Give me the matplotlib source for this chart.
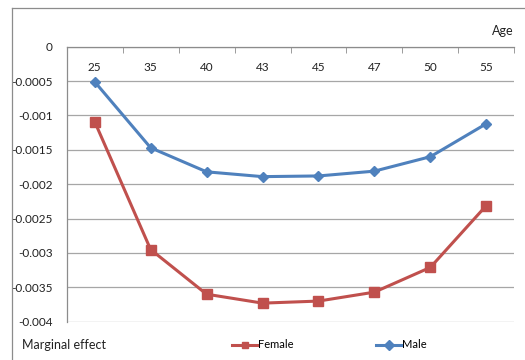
import matplotlib
matplotlib.use("Agg")
import matplotlib.pyplot as plt
from matplotlib.lines import Line2D

ages = ["25", "35", "40", "43", "45", "47", "50", "55"]
female = [-0.00109, -0.00295, -0.00360, -0.00373, -0.00370, -0.00357, -0.00321, -0.00231]
male = [-0.00051, -0.00147, -0.00182, -0.00189, -0.00188, -0.00181, -0.00160, -0.00112]
yticks = [0, -0.0005, -0.001, -0.0015, -0.002, -0.0025, -0.003, -0.0035, -0.004]
ytick_labels = ["0", "-0.0005", "-0.001", "-0.0015", "-0.002", "-0.0025", "-0.003", "-0.0035", "-0.004"]

plt.rcParams['font.family'] = ['Lato', 'DejaVu Sans']
FS = 8.5
W, H = 525, 360
fig = plt.figure(figsize=(W / 100, H / 100), dpi=100)

# outer chart border (left and top edges visible)
bx, by = 11.5 / W, 1 - 7.5 / H
fig.add_artist(Line2D([bx, bx], [0, by], transform=fig.transFigure, color="#8c8c8c", lw=0.9))
fig.add_artist(Line2D([bx, 1], [by, by], transform=fig.transFigure, color="#8c8c8c", lw=0.9))

left, right, top, bottom = 66.7, 514.3, 46.7, 321.7
ax = fig.add_axes([left / W, 1 - bottom / H, (right - left) / W, (bottom - top) / H])

x = list(range(len(ages)))
ax.plot(x, female, color="#C0504D", lw=2.2, marker="s", ms=6.5, label="Female", zorder=3)
ax.plot(x, male, color="#4F81BD", lw=2.2, marker="D", ms=5, label="Male", zorder=3)

ax.set_xlim(-0.5, len(ages) - 0.5)
ax.set_ylim(-0.004, 0)
ax.set_yticks(yticks)
ax.set_yticklabels(ytick_labels, fontsize=FS, color="#222222")
ax.yaxis.grid(True, color="#a6a6a6", lw=0.9)
ax.set_axisbelow(True)
ax.tick_params(axis="y", length=0, pad=10)

ax.xaxis.tick_top()
ax.set_xticks(x)
ax.set_xticklabels(ages, fontsize=FS, color="#222222")
ax.tick_params(axis="x", which="major", length=0, pad=-19)
ax.set_xticks([i - 0.5 for i in range(len(ages) + 1)], minor=True)
ax.tick_params(axis="x", which="minor", direction="in", length=4, color="#8c8c8c", top=True)

for s in ["right", "bottom"]:
    ax.spines[s].set_visible(False)
for s in ["left", "top"]:
    ax.spines[s].set_color("#8c8c8c")
    ax.spines[s].set_linewidth(0.9)

fig.text(514 / W, 1 - 31 / H, "Age", ha="right", va="center", fontsize=FS + 0.5, color="#222222")
fig.text(22 / W, 1 - 345 / H, "Marginal effect", ha="left", va="center", fontsize=FS + 0.5, color="#222222")

leg = ax.legend(loc="center left", bbox_to_anchor=(232 / W, 1 - 345 / H), bbox_transform=fig.transFigure,
                ncol=2, frameon=False, fontsize=FS - 0.5, handlelength=2.3, handletextpad=0.05,
                columnspacing=7.4, borderpad=0, borderaxespad=0)
for h in leg.legend_handles:
    h.set_markersize(5)

fig.savefig("out.png", dpi=100)
